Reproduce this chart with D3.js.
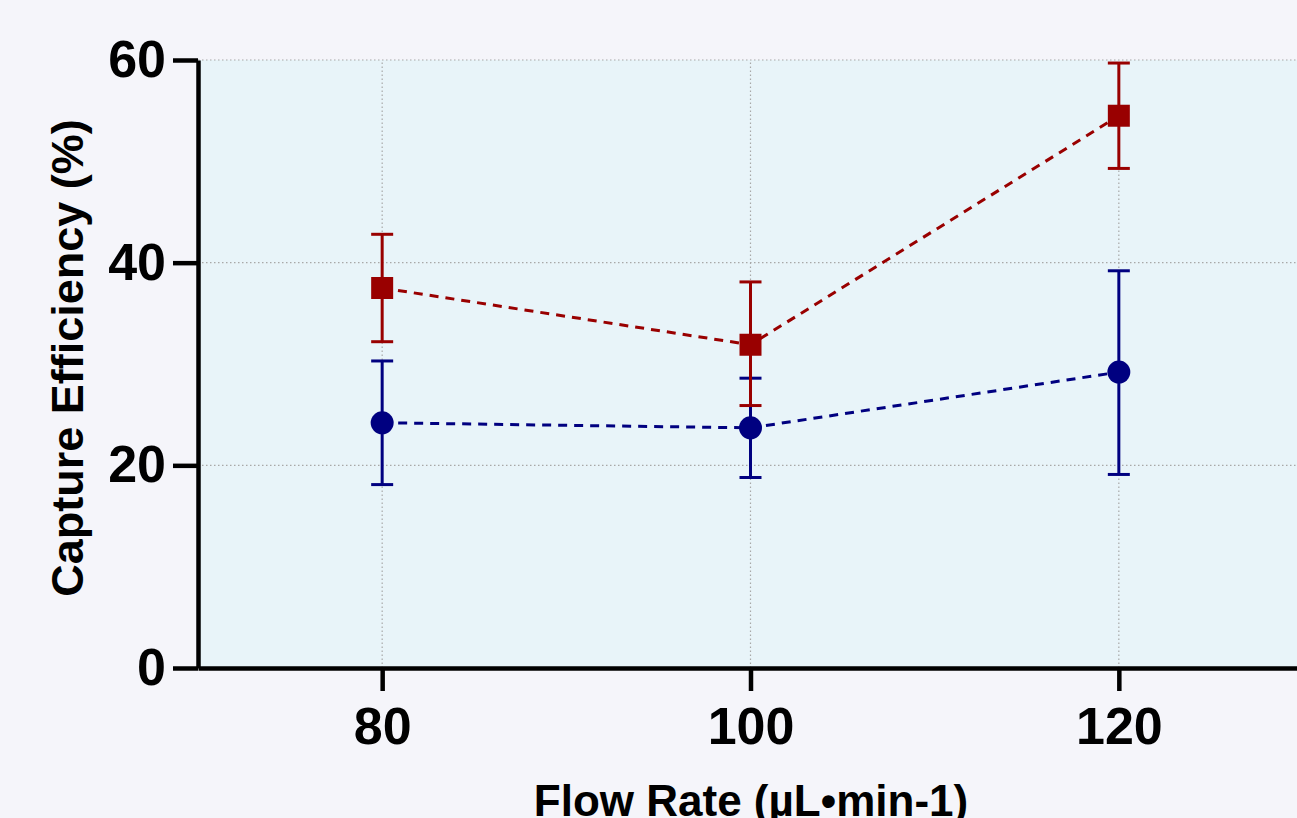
<!DOCTYPE html>
<html>
<head>
<meta charset="utf-8">
<script src="https://cdn.jsdelivr.net/npm/d3@7"></script>
<style>
  html, body { margin: 0; padding: 0; background: #f5f5fa; }
  svg { display: block; }
  text { font-family: "Liberation Sans", Arial, sans-serif; font-weight: bold; fill: #000; }
</style>
</head>
<body>
<svg id="chart" width="1297" height="818"></svg>
<script>
// ---- data ----
const flowRates = [80, 100, 120];
const redMean  = [37.5, 31.9, 54.5];
const redErrHi = [42.8, 38.1, 59.7];
const redErrLo = [32.2, 25.9, 49.3];
const blueMean  = [24.2, 23.7, 29.2];
const blueErrHi = [30.3, 28.6, 39.2];
const blueErrLo = [18.1, 18.8, 19.1];
const xTicks = [80, 100, 120];
const yTicks = [0, 20, 40, 60];
const xTitle = "Flow Rate (µL•min-1)";
const yTitle = "Capture Efficiency (%)";

const svg = d3.select("#chart");
const x = d3.scaleLinear().domain([70, 130]).range([198, 1303]);
const y = d3.scaleLinear().domain([0, 60]).range([668, 60]);

// plot background
svg.append("rect")
  .attr("x", x(70)).attr("y", y(60))
  .attr("width", x(130) - x(70)).attr("height", y(0) - y(60))
  .attr("fill", "#e8f4f9");

// grid
const grid = svg.append("g").attr("stroke", "#a8a8a8").attr("stroke-width", 1.2)
  .attr("stroke-dasharray", "1.5,2.5");
grid.selectAll("line.h").data(yTicks.filter(d => d > 0)).join("line")
  .attr("x1", x(70)).attr("x2", x(130))
  .attr("y1", d => y(d)).attr("y2", d => y(d));
grid.selectAll("line.v").data(xTicks).join("line")
  .attr("y1", y(0)).attr("y2", y(60))
  .attr("x1", d => x(d)).attr("x2", d => x(d));

// axes
const xAxis = d3.axisBottom(x).tickValues(xTicks).tickSize(23).tickPadding(16).tickSizeOuter(0);
const gx = svg.append("g").attr("transform", `translate(0,${y(0)})`).call(xAxis);
gx.select(".domain").attr("stroke", "#000").attr("stroke-width", 4.5);
gx.selectAll(".tick line").attr("stroke", "#000").attr("stroke-width", 4.5);
gx.selectAll(".tick text").attr("font-size", 52).attr("font-family", "Liberation Sans, Arial, sans-serif")
  .attr("font-weight", "bold").attr("fill", "#000");

const yAxis = d3.axisLeft(y).tickValues(yTicks).tickSize(25).tickPadding(7).tickSizeOuter(0);
const gy = svg.append("g").attr("transform", `translate(${x(70)},0)`).call(yAxis);
gy.select(".domain").attr("stroke", "#000").attr("stroke-width", 4.5);
gy.selectAll(".tick line").attr("stroke", "#000").attr("stroke-width", 4.5);
gy.selectAll(".tick text").attr("font-size", 52).attr("font-family", "Liberation Sans, Arial, sans-serif")
  .attr("font-weight", "bold").attr("fill", "#000");

// axis titles
svg.append("text")
  .attr("x", 751).attr("y", 816)
  .attr("text-anchor", "middle").attr("font-size", 44)
  .text(xTitle);
svg.append("text")
  .attr("transform", "translate(83,358) rotate(-90)")
  .attr("text-anchor", "middle").attr("font-size", 45)
  .text(yTitle);

function drawSeries(mean, hi, lo, color, shape) {
  const g = svg.append("g");
  const pts = flowRates.map((f, i) => ({ f, m: mean[i], hi: hi[i], lo: lo[i] }));
  // dashed connecting line
  g.append("path")
    .datum(pts)
    .attr("fill", "none").attr("stroke", color).attr("stroke-width", 3)
    .attr("stroke-dasharray", "9,7")
    .attr("d", d3.line().x(d => x(d.f)).y(d => y(d.m)));
  // error bars
  const eb = g.selectAll("g.eb").data(pts).join("g").attr("stroke", color).attr("stroke-width", 3);
  eb.append("line").attr("x1", d => x(d.f)).attr("x2", d => x(d.f))
    .attr("y1", d => y(d.hi)).attr("y2", d => y(d.lo));
  eb.append("line").attr("x1", d => x(d.f) - 11).attr("x2", d => x(d.f) + 11)
    .attr("y1", d => y(d.hi)).attr("y2", d => y(d.hi));
  eb.append("line").attr("x1", d => x(d.f) - 11).attr("x2", d => x(d.f) + 11)
    .attr("y1", d => y(d.lo)).attr("y2", d => y(d.lo));
  // markers
  if (shape === "square") {
    g.selectAll("rect.m").data(pts).join("rect")
      .attr("x", d => x(d.f) - 11).attr("y", d => y(d.m) - 11)
      .attr("width", 22).attr("height", 22).attr("fill", color);
  } else {
    g.selectAll("circle.m").data(pts).join("circle")
      .attr("cx", d => x(d.f)).attr("cy", d => y(d.m)).attr("r", 11.5).attr("fill", color);
  }
}

drawSeries(blueMean, blueErrHi, blueErrLo, "#000080", "circle");
drawSeries(redMean, redErrHi, redErrLo, "#990000", "square");
</script>
</body>
</html>
